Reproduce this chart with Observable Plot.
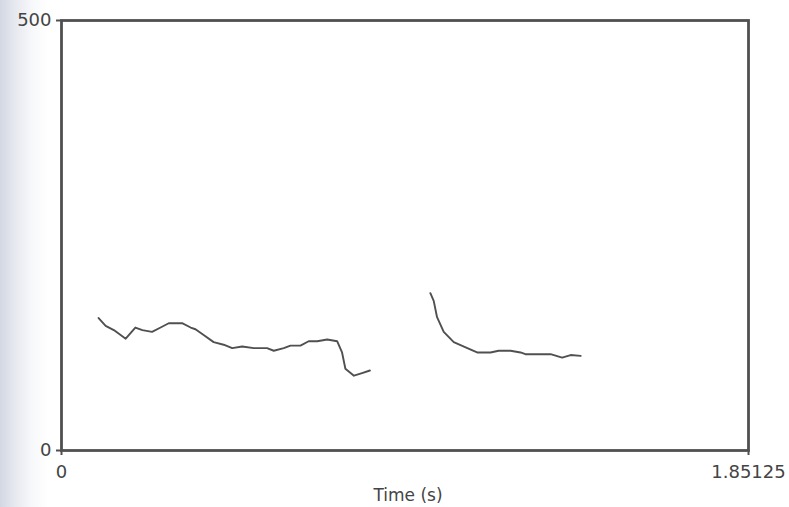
<!DOCTYPE html>
<html>
<head>
<meta charset="utf-8">
<script src="https://cdn.jsdelivr.net/npm/d3@7"></script>
<script src="https://cdn.jsdelivr.net/npm/@observablehq/plot@0.6"></script>
<style>
  html, body { margin: 0; padding: 0; }
  body {
    width: 789px; height: 507px; overflow: hidden;
    background: linear-gradient(to right, #d3d7e3 0px, #e6e8ef 14px, #f7f8fa 32px, #ffffff 48px);
  }
  #chart svg { display: block; background: transparent; }
</style>
</head>
<body>
<div id="chart"></div>
<script>
// Pitch contour, segment 1 (time in s, pitch in Hz)
const seg1Time = [0.100, 0.119, 0.141, 0.173, 0.199, 0.218, 0.244, 0.267, 0.289, 0.325, 0.348, 0.361, 0.384, 0.410, 0.437, 0.460, 0.487, 0.518, 0.554, 0.572, 0.599, 0.617, 0.644, 0.666, 0.689, 0.716, 0.743, 0.756, 0.765, 0.788, 0.810, 0.831];
const seg1Hz   = [154, 145, 140, 130, 143, 140, 138, 143, 148, 148, 143, 141, 134, 126, 123, 119, 121, 119, 119, 116, 119, 122, 122, 127, 127, 129, 127, 114, 95, 87, 90, 93];
// Pitch contour, segment 2
const seg2Time = [0.994, 1.003, 1.012, 1.030, 1.057, 1.089, 1.120, 1.156, 1.178, 1.210, 1.237, 1.250, 1.282, 1.318, 1.349, 1.372, 1.399];
const seg2Hz   = [183, 174, 155, 138, 126, 120, 114, 114, 116, 116, 114, 112, 112, 112, 108, 111, 110];

const xTicks = [0, 1.85125];
const xTickLabels = ["0", "1.85125"];
const yTicks = [0, 500];
const xLabel = "Time (s)";

const data = [
  ...seg1Time.map((t, i) => ({t, hz: seg1Hz[i], seg: 1})),
  ...seg2Time.map((t, i) => ({t, hz: seg2Hz[i], seg: 2}))
];

const chart = Plot.plot({
  width: 789,
  height: 507,
  marginLeft: 61,
  marginRight: 41,
  marginTop: 20,
  marginBottom: 57,
  style: {fontFamily: "DejaVu Sans, sans-serif", fontSize: "18px", color: "#444", background: "transparent"},
  x: {domain: [0, 1.85125], label: null},
  y: {domain: [0, 500], label: null},
  marks: [
    Plot.line(data, {x: "t", y: "hz", z: "seg", stroke: "#505050", strokeWidth: 1.9, strokeLinejoin: "round", curve: "linear"}),
    Plot.frame({stroke: "#505050", strokeWidth: 2.8}),
    Plot.axisX({ticks: xTicks, tickFormat: (d, i) => xTickLabels[i], tickSize: 5, tickPadding: 10, stroke: "#505050", strokeWidth: 2, fill: "#444", fontSize: 18, label: null}),
    Plot.axisY({ticks: yTicks, tickSize: 5, tickPadding: 5, stroke: "#505050", strokeWidth: 2, fill: "#444", fontSize: 18, label: null}),
    Plot.text([xLabel], {frameAnchor: "bottom", dy: 50, dx: 3, text: d => d, fill: "#444", fontSize: 17})
  ]
});
document.getElementById("chart").append(chart);
</script>
</body>
</html>
